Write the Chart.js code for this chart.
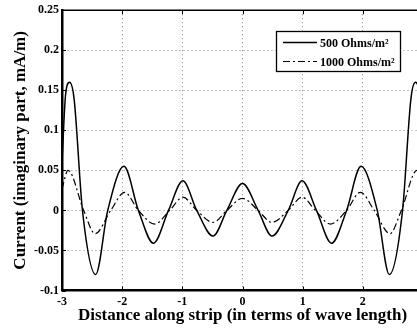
<!DOCTYPE html>
<html><head><meta charset="utf-8">
<script src="https://cdn.jsdelivr.net/npm/chart.js@4/dist/chart.umd.min.js"></script>
<style>
html,body{margin:0;padding:0;background:#fff;overflow:hidden;width:417px;height:330px}
#wrap{position:relative;width:430px;height:330px}
</style></head>
<body><div id="wrap"><canvas id="c"></canvas></div>
<script>
const xTickLabels = ['-3','-2','-1','0','1','2','3'];
const yTickLabels = ['-0.1','-0.05','0','0.05','0.1','0.15','0.2','0.25'];
const seriesNames = ['500 Ohms/m²','1000 Ohms/m²'];
const xTitle = 'Distance along strip (in terms of wave length)';
const yTitle = 'Current (imaginary part, mA/m)';

const x500 = [-3.0,-2.94,-2.875,-2.8,-2.66,-2.44,-2.24,-1.97,-1.73,-1.48,-1.23,-0.99,-0.76,-0.49,-0.26,0.0,0.26,0.49,0.76,0.99,1.23,1.48,1.73,1.97,2.24,2.44,2.66,2.8,2.875,2.94,3.0];
const y500 = [0.06,0.145,0.160,0.140,0.0,-0.080,0.0,0.055,0.0,-0.041,0.0,0.037,0.0,-0.032,0.0,0.0335,0.0,-0.032,0.0,0.037,0.0,-0.041,0.0,0.055,0.0,-0.080,0.0,0.140,0.160,0.145,0.06];

const x1000 = [-3.0,-2.9,-2.64,-2.45,-2.19,-1.96,-1.73,-1.46,-1.21,-0.99,-0.76,-0.49,-0.26,0.0,0.26,0.49,0.76,0.99,1.21,1.46,1.73,1.96,2.19,2.45,2.64,2.9,3.0];
const y1000 = [0.027,0.050,0.0,-0.029,0.0,0.0226,0.0,-0.017,0.0,0.0165,0.0,-0.015,0.0,0.015,0.0,-0.015,0.0,0.0165,0.0,-0.017,0.0,0.0226,0.0,-0.029,0.0,0.050,0.027];

const FONT = "'Liberation Serif','Times New Roman',serif";

function pts(xs, ys){ return xs.map((x,i)=>({x:x, y:ys[i]})); }

const frame = {
  id:'frame',
  afterDraw(chart){
    const {ctx, chartArea:a, scales:{x, y}} = chart;
    ctx.save();
    ctx.strokeStyle='#000';
    ctx.lineWidth=1.5;
    ctx.beginPath(); ctx.moveTo(a.left, a.top); ctx.lineTo(a.right, a.top); ctx.stroke();
    ctx.lineWidth=1;
    xTickLabels.forEach(l=>{
      const px = Math.round(x.getPixelForValue(parseFloat(l)))+0.5;
      ctx.beginPath(); ctx.moveTo(px, a.top); ctx.lineTo(px, a.top+4); ctx.stroke();
      ctx.beginPath(); ctx.moveTo(px, a.bottom); ctx.lineTo(px, a.bottom-4); ctx.stroke();
    });
    yTickLabels.forEach(l=>{
      const py = Math.round(y.getPixelForValue(parseFloat(l)))+0.5;
      ctx.beginPath(); ctx.moveTo(a.left, py); ctx.lineTo(a.left+4, py); ctx.stroke();
    });
    // legend
    const bx=276.5, by=31.5, bw=124, bh=40;
    ctx.fillStyle='#fff'; ctx.fillRect(bx,by,bw,bh);
    ctx.lineWidth=1.3; ctx.strokeStyle='#000'; ctx.strokeRect(bx,by,bw,bh);
    const rows=[42.5,61.5];
    chart.data.datasets.forEach((ds,i)=>{
      ctx.save();
      ctx.strokeStyle=ds.borderColor; ctx.lineWidth=ds.borderWidth;
      ctx.setLineDash(ds.borderDash||[]);
      ctx.beginPath(); ctx.moveTo(283, rows[i]); ctx.lineTo(317, rows[i]); ctx.stroke();
      ctx.restore();
      ctx.fillStyle='#000'; ctx.font='bold 12px '+FONT; ctx.textBaseline='middle'; ctx.textAlign='left';
      ctx.fillText(ds.label, 320, rows[i]+1);
    });
    ctx.restore();
  }
};

new Chart(document.getElementById('c'), {
  type:'line',
  data:{datasets:[
    {label:seriesNames[0], data:pts(x500,y500), borderColor:'#000', borderWidth:1.5, pointRadius:0, cubicInterpolationMode:'monotone', fill:false},
    {label:seriesNames[1], data:pts(x1000,y1000), borderColor:'#000', borderWidth:1.2, borderDash:[7,3,2,3], pointRadius:0, cubicInterpolationMode:'monotone', fill:false}
  ]},
  options:{
    responsive:true, maintainAspectRatio:false, animation:false, devicePixelRatio:1,
    layout:{padding:{left:0, top:4.5, right:6, bottom:0}},
    plugins:{legend:{display:false}, tooltip:{enabled:false}},
    scales:{
      x:{type:'linear', min:-3, max:3,
        afterFit(s){ s.height=39.5; },
        ticks:{stepSize:1, padding:4, color:'#000', font:{family:FONT, weight:'bold', size:12},
          callback:(v)=>{ const l=xTickLabels.find(t=>Math.abs(parseFloat(t)-v)<1e-6); return l===undefined?'':l; }},
        grid:{color:'#888', lineWidth:1, drawTicks:false},
        border:{display:true, color:'#000', width:2.5, dash:[1,3]},
        title:{display:true, text:xTitle, color:'#000', font:{family:FONT, weight:'bold', size:17}, padding:{top:0,bottom:4.6}}
      },
      y:{type:'linear', min:-0.1, max:0.25,
        afterFit(s){ s.width=62; },
        ticks:{stepSize:0.05, padding:3, color:'#000', font:{family:FONT, weight:'bold', size:12},
          callback:(v)=>{ const l=yTickLabels.find(t=>Math.abs(parseFloat(t)-v)<1e-6); return l===undefined?'':l; }},
        grid:{color:'#888', lineWidth:1, drawTicks:false},
        border:{display:true, color:'#000', width:2.5, dash:[1,3]},
        title:{display:true, text:yTitle, color:'#000', font:{family:FONT, weight:'bold', size:17}, padding:{top:10,bottom:0}}
      }
    }
  },
  plugins:[frame]
});
</script>
</body></html>
